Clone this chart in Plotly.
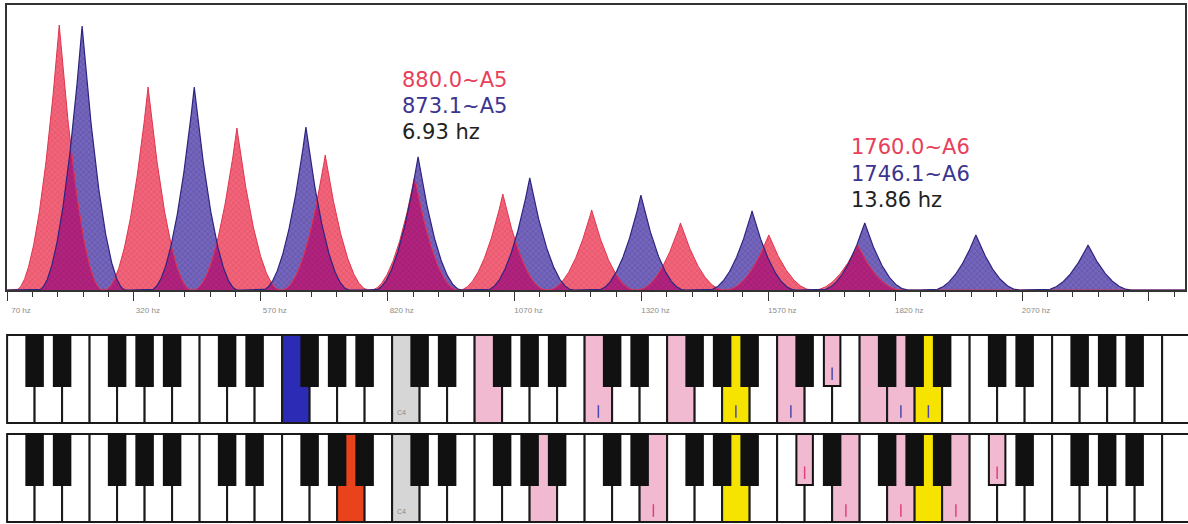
import numpy as np
import plotly.graph_objects as go

# ---------------- spectrum data ----------------
red_freqs = [173, 348, 523, 697, 873, 1047, 1222, 1397, 1571, 1746]
red_amps = [1.00, 0.766, 0.611, 0.509, 0.426, 0.362, 0.302, 0.253, 0.208, 0.170]
blue_freqs = [218, 439, 659, 880, 1100, 1319, 1538, 1760, 1979, 2200]
blue_amps = [0.996, 0.766, 0.615, 0.502, 0.423, 0.358, 0.298, 0.253, 0.208, 0.170]
peak_halfwidth_hz = 86

tick_values = [70, 320, 570, 820, 1070, 1320, 1570, 1820, 2070, 2320]
tick_labels = ["70 hz", "320 hz", "570 hz", "820 hz", "1070 hz", "1320 hz",
               "1570 hz", "1820 hz", "2070 hz", ""]

label_group_a = ["880.0~A5", "873.1~A5", "6.93 hz"]
label_group_a_pos = (844, [0.791, 0.694, 0.598])
label_group_b = ["1760.0~A6", "1746.1~A6", "13.86 hz"]
label_group_b_pos = (1729, [0.538, 0.438, 0.338])
label_colors = ["#e8405a", "#3b3590", "#222222"]

# ---------------- keyboard data ----------------
first_octave, last_octave = 2, 8          # C2 ... C8
top_fundamental = "F3"
top_harmonics = ["F4", "C5", "F5", "C6", "D#6", "F6", "G6"]
top_marked = ["C5", "A5", "C6", "D#6", "G6", "A6"]
bottom_fundamental = "A3"
bottom_harmonics = ["A4", "E5", "C#6", "E6", "G6", "B6", "C#7"]
bottom_marked = ["E5", "C#6", "E6", "G6", "B6", "C#7"]
target_notes = ["A5", "A6"]
middle_c = "C4"

RED_FILL = "#f0657a"
BLUE_FILL = "#7566bb"
MIX_FILL = "#b2237e"
PINK = "#f2bad0"
YELLOW = "#f6e400"
GRAY = "#d6d6d6"

WHITE_ORDER = ["C", "D", "E", "F", "G", "A", "B"]
BLACK_AFTER = {"C#": "C", "D#": "D", "F#": "F", "G#": "G", "A#": "A"}


def note_pos(note):
    name, octave = note[:-1], int(note[-1])
    if "#" in name:
        base = WHITE_ORDER.index(BLACK_AFTER[name])
        return True, (octave - first_octave) * 7 + base + 1
    return False, (octave - first_octave) * 7 + WHITE_ORDER.index(name) + 0.5


# ---------------- curves ----------------
grid = np.arange(70, 2392, 1.0)


def series_curve(freqs, amps):
    out = np.zeros_like(grid)
    for f0, a in zip(freqs, amps):
        shape = a * np.clip(1 - np.abs(grid - f0) / peak_halfwidth_hz, 0, None) ** 2
        out = np.maximum(out, shape)
    return out


red_curve = series_curve(red_freqs, red_amps)
blue_curve = series_curve(blue_freqs, blue_amps)
mix_curve = np.minimum(red_curve, blue_curve)

fig = go.Figure()
fig.add_trace(go.Scatter(x=grid, y=blue_curve, mode="lines", fill="tozeroy",
                         fillcolor=BLUE_FILL, line=dict(width=0), hoverinfo="skip",
                         fillpattern=dict(shape="x", size=4, solidity=0.25,
                                          fgcolor="#3a2f90", bgcolor=BLUE_FILL)))
fig.add_trace(go.Scatter(x=grid, y=red_curve, mode="lines", fill="tozeroy",
                         fillcolor=RED_FILL, line=dict(width=0), hoverinfo="skip",
                         fillpattern=dict(shape="x", size=4, solidity=0.25,
                                          fgcolor="#d8304c", bgcolor=RED_FILL)))
fig.add_trace(go.Scatter(x=grid, y=mix_curve, mode="lines", fill="tozeroy",
                         fillcolor=MIX_FILL, line=dict(width=0), hoverinfo="skip",
                         fillpattern=dict(shape="x", size=4, solidity=0.25,
                                          fgcolor="#7a1060", bgcolor=MIX_FILL)))
fig.add_trace(go.Scatter(x=grid, y=red_curve, mode="lines",
                         line=dict(color="#e0344e", width=1), hoverinfo="skip"))
fig.add_trace(go.Scatter(x=grid, y=blue_curve, mode="lines",
                         line=dict(color="#2c2580", width=1.2), hoverinfo="skip"))

for (xpos, ys), texts in ((label_group_a_pos, label_group_a), (label_group_b_pos, label_group_b)):
    for y, t, c in zip(ys, texts, label_colors):
        fig.add_annotation(x=xpos, y=y, xref="x", yref="y", text=t, showarrow=False,
                           xanchor="left", yanchor="middle",
                           font=dict(family="DejaVu Sans", size=21, color=c))


# ---------------- keyboards ----------------
def keyboard(fund, fund_color, harmonics, marked, mark_color, xa, ya):
    n_white = (last_octave - first_octave) * 7 + 1
    white_x, white_c = [], []
    black_x, black_c = [], []
    for i in range(n_white):
        octave = first_octave + i // 7
        name = WHITE_ORDER[i % 7]
        note = f"{name}{octave}"
        white_x.append(i + 0.5)
        if note == fund:
            white_c.append(fund_color)
        elif note in target_notes:
            white_c.append(YELLOW)
        elif note in harmonics:
            white_c.append(PINK)
        elif note == middle_c:
            white_c.append(GRAY)
        else:
            white_c.append("white")
        if name in BLACK_AFTER.values() and octave < last_octave:
            bname = [k for k, v in BLACK_AFTER.items() if v == name][0]
            bnote = f"{bname}{octave}"
            black_x.append(i + 1)
            black_c.append(PINK if bnote in harmonics else "#111111")
    fig.add_trace(go.Bar(x=white_x, y=[1] * len(white_x), base=0, width=1,
                         marker=dict(color=white_c, line=dict(color="#1a1a1a", width=2)),
                         xaxis=xa, yaxis=ya, hoverinfo="skip"))
    fig.add_trace(go.Bar(x=black_x, y=[0.58] * len(black_x), base=0.42, width=0.6,
                         marker=dict(color=black_c, line=dict(color="#111111", width=2)),
                         xaxis=xa, yaxis=ya, hoverinfo="skip"))
    mx, my = [], []
    for note in marked:
        is_black, pos = note_pos(note)
        mx.append(pos)
        my.append(0.56 if is_black else 0.13)
    fig.add_trace(go.Scatter(x=mx, y=my, mode="markers", xaxis=xa, yaxis=ya,
                             marker=dict(symbol="line-ns", size=9,
                                         line=dict(color=mark_color, width=1.5)),
                             hoverinfo="skip"))
    _, cpos = note_pos(middle_c)
    fig.add_annotation(x=cpos - 0.15, y=0.12, xref=xa, yref=ya, text=middle_c,
                       showarrow=False, font=dict(size=7, color="#8a8a8a",
                                                  family="Liberation Sans"))


keyboard(top_fundamental, "#2b2bb5", top_harmonics, top_marked, "#4a48b0", "x2", "y2")
keyboard(bottom_fundamental, "#e8431b", bottom_harmonics, bottom_marked, "#e0407a", "x3", "y3")

axis_col = "#333333"
fig.update_layout(
    width=1188, height=524, margin=dict(l=0, r=0, t=0, b=0),
    paper_bgcolor="white", plot_bgcolor="white", showlegend=False,
    barmode="overlay",
    xaxis=dict(domain=[7 / 1188, 1185 / 1188], range=[70, 2391], anchor="y",
               tickvals=tick_values, ticktext=tick_labels, ticks="outside",
               ticklen=9, tickwidth=1, tickcolor=axis_col,
               minor=dict(dtick=50, tick0=70, ticks="outside", ticklen=5,
                          tickcolor=axis_col, tickwidth=1),
               tickfont=dict(size=8, color="#8c8c8c", family="Liberation Sans"),
               ticklabelshift=14, ticklabelstandoff=3,
               showline=True, linecolor=axis_col, linewidth=1.5, mirror=True,
               showgrid=False, zeroline=False),
    yaxis=dict(domain=[1 - 290 / 524, 1 - 5 / 524], range=[0, 1.0755], anchor="x",
               showticklabels=False, ticks="", showgrid=False, zeroline=False,
               showline=True, linecolor=axis_col, linewidth=1.5, mirror=True),
    xaxis2=dict(domain=[6 / 1188, 1], range=[-0.04, 42.94], anchor="y2", visible=False),
    yaxis2=dict(domain=[1 - 424 / 524, 1 - 334 / 524], range=[-0.012, 1.012],
                anchor="x2", visible=False),
    xaxis3=dict(domain=[6 / 1188, 1], range=[-0.04, 42.94], anchor="y3", visible=False),
    yaxis3=dict(domain=[1 - 523 / 524, 1 - 433 / 524], range=[-0.012, 1.012],
                anchor="x3", visible=False),
)

fig.write_html("out.html", config={"displayModeBar": False},
               post_script="document.body.style.margin='0';"
                           "document.body.style.padding='0';"
                           "document.body.style.overflow='hidden';")
